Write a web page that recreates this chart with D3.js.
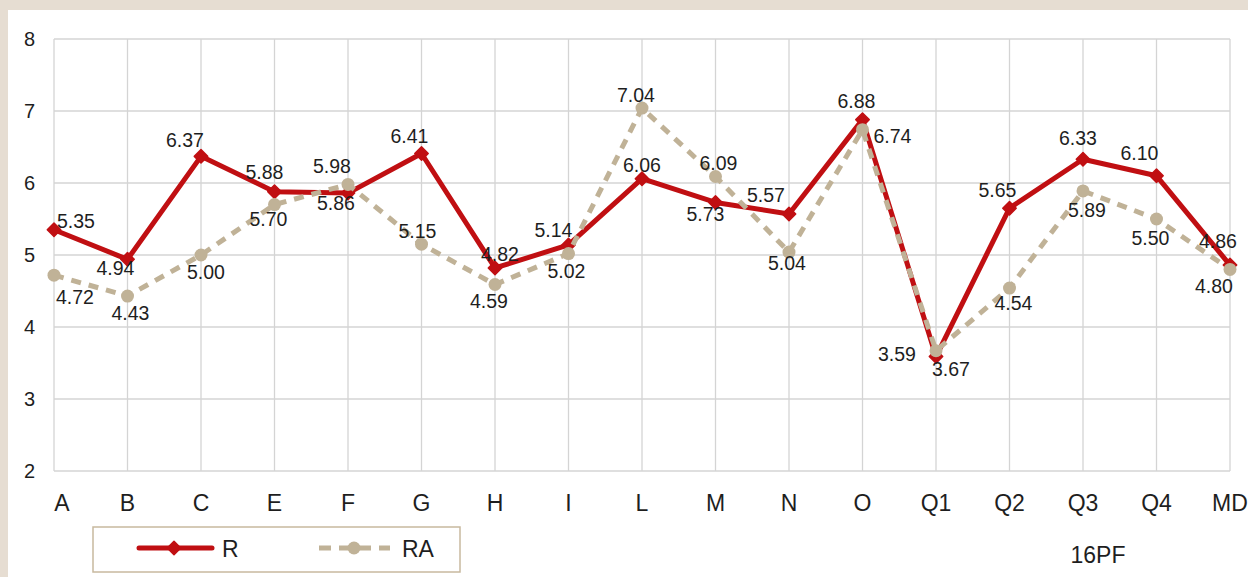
<!DOCTYPE html>
<html>
<head>
<meta charset="utf-8">
<script src="https://cdn.jsdelivr.net/npm/d3@7"></script>
<style>
  body { margin: 0; background: #e6ddd2; }
  svg { display: block; }
  text { font-family: "Liberation Sans", Arial, sans-serif; fill: #1e1e1e; }
</style>
</head>
<body>
<svg width="1248" height="577"></svg>
<script>
const factors = ["A", "B", "C", "E", "F", "G", "H", "I", "L", "M", "N", "O", "Q1", "Q2", "Q3", "Q4", "MD"];
const rValues = [5.35, 4.94, 6.37, 5.88, 5.86, 6.41, 4.82, 5.14, 6.06, 5.73, 5.57, 6.88, 3.59, 5.65, 6.33, 6.10, 4.86];
const raValues = [4.72, 4.43, 5.00, 5.70, 5.98, 5.15, 4.59, 5.02, 7.04, 6.09, 5.04, 6.74, 3.67, 4.54, 5.89, 5.50, 4.80];
const yTicks = [2, 3, 4, 5, 6, 7, 8];

// label offsets (px) from each point, as placed in the original
const rLabelOff = [[22,-9],[-12,9],[-16,-16],[-10,-19],[-12,10],[-12,-17],[5,-14],[-15,-15],[0,-14],[-10,12],[-23,-19],[-6,-18],[-39,-2],[-12,-18],[-5,-21],[-17,-23],[-12,-24]];
const raLabelOff = [[21,22],[3,17],[5,17],[-6,15],[-16,-18],[-4,-13],[-6,17],[-2,18],[-6,-13],[3,-13],[-2,11],[30,6],[15,18],[4,15],[4,19],[-6,19],[-16,17]];

const red = "#c00f12", tan = "#c0b297";

const svg = d3.select("svg");

// white panel
svg.append("rect").attr("x", 8).attr("y", 10).attr("width", 1240).attr("height", 567).attr("fill", "#fff");

const x = d3.scalePoint().domain(factors).range([54, 1230]);
const y = d3.scaleLinear().domain([2, 8]).range([471, 39]);

// grid
const grid = svg.append("g").attr("stroke", "#d4d4d4").attr("stroke-width", 1.3);
grid.selectAll(".h").data(yTicks).join("line")
  .attr("x1", x.range()[0]).attr("x2", x.range()[1])
  .attr("y1", d => y(d)).attr("y2", d => y(d));
grid.selectAll(".v").data(factors).join("line")
  .attr("x1", d => x(d)).attr("x2", d => x(d))
  .attr("y1", y(8)).attr("y2", y(2));

// y axis labels
svg.append("g").selectAll("text").data(yTicks).join("text")
  .attr("x", 35).attr("y", d => y(d)).attr("dy", "0.35em")
  .attr("text-anchor", "end").attr("font-size", 20)
  .text(d => d);

// x axis labels
svg.append("g").selectAll("text").data(factors).join("text")
  .attr("x", (d, i) => x(d) + (i === 0 ? 8 : 0)).attr("y", 511)
  .attr("text-anchor", "middle").attr("font-size", 23)
  .text(d => d);

const line = d3.line().x((d, i) => x(factors[i])).y(d => y(d));
const diamond = d3.symbol(d3.symbolDiamond2, 115);

// R series
svg.append("path").datum(rValues).attr("d", line)
  .attr("fill", "none").attr("stroke", red).attr("stroke-width", 5).attr("stroke-linejoin", "round");
svg.append("g").selectAll("path").data(rValues).join("path")
  .attr("d", diamond)
  .attr("transform", (d, i) => `translate(${x(factors[i])},${y(d)})`)
  .attr("fill", red).attr("stroke", red).attr("stroke-width", 1.5).attr("stroke-linejoin", "round");

// RA series
svg.append("path").datum(raValues).attr("d", line)
  .attr("fill", "none").attr("stroke", tan).attr("stroke-width", 5).attr("stroke-dasharray", "10,8");
svg.append("g").selectAll("circle").data(raValues).join("circle")
  .attr("cx", (d, i) => x(factors[i])).attr("cy", d => y(d)).attr("r", 6.5)
  .attr("fill", tan);

// data labels
svg.append("g").selectAll("text").data(rValues).join("text")
  .attr("x", (d, i) => x(factors[i]) + rLabelOff[i][0])
  .attr("y", (d, i) => y(d) + rLabelOff[i][1])
  .attr("dy", "0.35em").attr("text-anchor", "middle").attr("font-size", 19.5)
  .text(d => d.toFixed(2));
svg.append("g").selectAll("text").data(raValues).join("text")
  .attr("x", (d, i) => x(factors[i]) + raLabelOff[i][0])
  .attr("y", (d, i) => y(d) + raLabelOff[i][1])
  .attr("dy", "0.35em").attr("text-anchor", "middle").attr("font-size", 19.5)
  .text(d => d.toFixed(2));

// legend
const lg = svg.append("g");
lg.append("rect").attr("x", 93).attr("y", 527).attr("width", 367).attr("height", 45)
  .attr("fill", "#fff").attr("stroke", "#c8b99f").attr("stroke-width", 1.5);
lg.append("line").attr("x1", 139).attr("x2", 212).attr("y1", 548).attr("y2", 548)
  .attr("stroke", red).attr("stroke-width", 5).attr("stroke-linecap", "round");
lg.append("path").attr("d", diamond)
  .attr("transform", "translate(174,548)").attr("fill", red)
  .attr("stroke", red).attr("stroke-width", 1.5).attr("stroke-linejoin", "round");
lg.append("text").attr("x", 222).attr("y", 557).attr("font-size", 23).text("R");
lg.append("line").attr("x1", 319).attr("x2", 390).attr("y1", 548).attr("y2", 548)
  .attr("stroke", tan).attr("stroke-width", 5).attr("stroke-dasharray", "12,8");
lg.append("circle").attr("cx", 354).attr("cy", 548).attr("r", 6.5).attr("fill", tan);
lg.append("text").attr("x", 402).attr("y", 557).attr("font-size", 23).text("RA");

svg.append("text").attr("x", 1098).attr("y", 563).attr("text-anchor", "middle")
  .attr("font-size", 23).text("16PF");
</script>
</body>
</html>
